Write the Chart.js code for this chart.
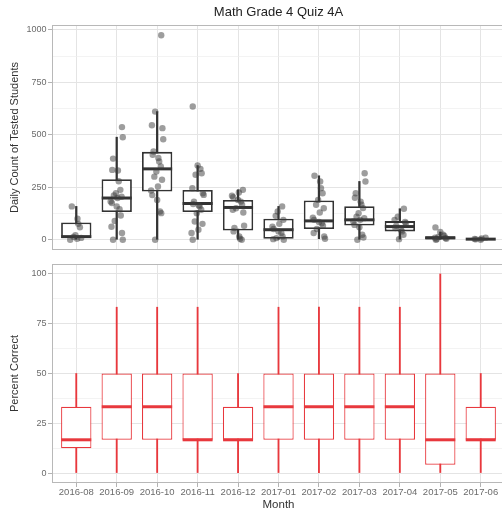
<!DOCTYPE html>
<html>
<head>
<meta charset="utf-8">
<script src="https://cdn.jsdelivr.net/npm/chart.js@4"></script>
<style>
  html, body { margin: 0; padding: 0; background: #fff; overflow: hidden; width: 502px; height: 514px; }
  #wrap { position: relative; width: 505px; height: 514px; }
  #c1 { position: absolute; left: 0; top: 0; }
  #c2 { position: absolute; left: 0; top: 251px; }
</style>
</head>
<body>
<div id="wrap">
  <canvas id="c1" width="505" height="251" style="width:505px;height:251px"></canvas>
  <canvas id="c2" width="505" height="263" style="width:505px;height:263px"></canvas>
</div>
<script>
// ---------- data ----------
const months = ['2016-08','2016-09','2016-10','2016-11','2016-12','2017-01','2017-02','2017-03','2017-04','2017-05','2017-06'];

// Daily count of tested students: box statistics
const countLo  = [0,   0,   0,   0,   0,   0,   5,   0,   3,   0,  0];
const countQ1  = [8,   132, 230, 132, 44,  5,   51,  68,  40,  2,  0];
const countMed = [15,  199, 338, 173, 154, 48,  90,  95,  63,  9,  3];
const countQ3  = [82,  289, 419, 237, 190, 100, 187, 160, 89,  17, 5];
const countHi  = [159, 489, 611, 354, 238, 159, 305, 278, 148, 37, 10];

// Daily count of tested students: individual days
const countPoints = [
  [159, 100, 76, 60, 22, 14, 9, 5, 0],
  [537, 489, 387, 333, 330, 279, 238, 222, 211, 205, 199, 182, 175, 159, 146, 116, 90, 62, 32, 0, 0],
  [975, 611, 546, 532, 479, 421, 405, 390, 373, 349, 325, 301, 286, 254, 235, 213, 190, 135, 127, 0],
  [635, 354, 338, 317, 310, 246, 222, 214, 182, 170, 165, 159, 143, 127, 87, 76, 48, 32, 0],
  [238, 225, 210, 203, 190, 182, 167, 150, 143, 130, 67, 56, 40, 16, 5, 0],
  [159, 135, 114, 95, 76, 62, 51, 40, 32, 16, 8, 3, 0],
  [305, 278, 246, 222, 190, 167, 150, 130, 105, 95, 85, 79, 67, 51, 32, 16, 5],
  [317, 278, 222, 200, 182, 167, 151, 127, 110, 103, 95, 87, 71, 60, 24, 11, 0],
  [148, 110, 95, 85, 79, 67, 56, 48, 40, 24, 3],
  [59, 37, 24, 18, 14, 10, 8, 5, 3, 0],
  [10, 6, 4, 2, 0]
];

// Percent correct: box statistics
const pctLo  = [0,    0,    0,    0,    0,    0,    0,    0,    0,    0,    0];
const pctQ1  = [12.5, 16.7, 16.7, 16.7, 16.7, 16.7, 16.7, 16.7, 16.7, 4.2,  16.7];
const pctMed = [16.7, 33.3, 33.3, 16.7, 16.7, 33.3, 33.3, 33.3, 33.3, 16.7, 16.7];
const pctQ3  = [33.3, 50,   50,   50,   33.3, 50,   50,   50,   50,   50,   33.3];
const pctHi  = [50,   83.3, 83.3, 83.3, 50,   83.3, 83.3, 83.3, 83.3, 100,  50];

// tick values
const countMajor = [0, 250, 500, 750, 1000];
const countMinor = [125, 375, 625, 875];
const pctMajor = [0, 25, 50, 75, 100];
const pctMinor = [12.5, 37.5, 62.5, 87.5];

// ---------- helpers ----------
const FONT = "'Liberation Sans', Arial, Helvetica, sans-serif";
const jitterPattern = [-0.11, 0.07, -0.02, 0.13, -0.15, 0.03, 0.10, -0.07, 0.15, -0.12, 0.05, -0.05, 0.12, -0.09, 0.0, 0.09, -0.13, 0.02];

const panelBorder = {
  id: 'panelBorder',
  afterDatasetsDraw(chart) {
    const a = chart.chartArea, ctx = chart.ctx;
    ctx.save();
    ctx.strokeStyle = '#b8b8b8';
    ctx.lineWidth = 1;
    ctx.strokeRect(a.left + 0.5, a.top + 0.5, a.right - a.left - 1, a.bottom - a.top - 1);
    ctx.restore();
  }
};

function noPad(s) { s.paddingTop = 0; s.paddingBottom = 0; s.paddingLeft = 0; s.paddingRight = 0; }

function xScale(showLabels) {
  return {
    type: 'linear', min: -0.6, max: 10.6, offset: false,
    afterBuildTicks: s => { s.ticks = months.map((m, i) => ({ value: i })); },
    afterFit: s => { s.height = showLabels ? 31 : 1; noPad(s); },
    border: { display: false },
    grid: { offset: false, color: '#e4e4e4', lineWidth: 1, drawTicks: showLabels, tickLength: 4, tickColor: '#b3b3b3' },
    ticks: {
      display: showLabels, autoSkip: false, maxRotation: 0, padding: 0,
      font: { family: FONT, size: 9.5 }, color: '#6b6b6b',
      callback: v => months[v]
    },
    title: showLabels ? { display: true, text: 'Month', font: { family: FONT, size: 11.5 }, color: '#333', padding: { top: 0, bottom: 2.5 } } : { display: false }
  };
}

function yScale(min, max, major, minor, titleText) {
  const all = major.concat(minor).sort((a, b) => a - b);
  return {
    type: 'linear', min: min, max: max,
    afterBuildTicks: s => { s.ticks = all.map(v => ({ value: v })); },
    afterFit: s => { s.width = 52; noPad(s); },
    border: { display: false },
    grid: {
      color: c => major.includes(c.tick.value) ? '#e4e4e4' : '#eeeeee',
      lineWidth: c => major.includes(c.tick.value) ? 1 : 0.7,
      tickLength: 4,
      tickColor: c => major.includes(c.tick.value) ? '#b3b3b3' : 'rgba(0,0,0,0)'
    },
    ticks: {
      autoSkip: false, padding: 1.5,
      font: { family: FONT, size: 9 }, color: '#6b6b6b',
      callback: v => major.includes(v) ? String(v) : ''
    },
    title: { display: true, text: titleText, font: { family: FONT, size: 11 }, color: '#333', padding: { top: 8, bottom: 0 } }
  };
}

function boxDatasets(lo, q1, med, q3, hi, color, boxLine, whiskerW) {
  return [
    {
      type: 'bar', order: 5, grouped: false,
      data: months.map((m, i) => ({ x: i, y: [lo[i], hi[i]] })),
      backgroundColor: color, borderWidth: 0, barThickness: whiskerW
    },
    {
      type: 'bar', order: 4, grouped: false,
      data: months.map((m, i) => ({ x: i, y: [q1[i], q3[i]] })),
      backgroundColor: '#ffffff', borderColor: color, borderWidth: boxLine,
      borderSkipped: false, barPercentage: 0.75, categoryPercentage: 1
    },
    {
      type: 'scatter', order: 3,
      data: months.map((m, i) => ({ x: i, y: med[i] })),
      pointStyle: 'line', pointRadius: 15, pointHoverRadius: 15,
      borderColor: color, pointBorderColor: color, pointBorderWidth: 3, borderWidth: 3
    }
  ];
}

const commonOpts = {
  responsive: false, animation: false,
  events: [],
  plugins: { legend: { display: false }, tooltip: { enabled: false } }
};

// ---------- top chart ----------
const pts = [];
countPoints.forEach((arr, i) => arr.forEach((v, k) => {
  pts.push({ x: i + jitterPattern[(k * 5 + i * 3) % jitterPattern.length], y: v });
}));

new Chart(document.getElementById('c1'), {
  type: 'bar',
  data: {
    datasets: boxDatasets(countLo, countQ1, countMed, countQ3, countHi, '#333333', 1.8, 1.6).concat([{
      type: 'scatter', order: 1,
      data: pts,
      pointRadius: 3.2, pointBorderWidth: 0,
      backgroundColor: 'rgba(60,60,60,0.5)', pointBackgroundColor: 'rgba(60,60,60,0.5)'
    }])
  },
  options: Object.assign({}, commonOpts, {
    layout: { padding: 0, autoPadding: false },
    plugins: {
      legend: { display: false }, tooltip: { enabled: false },
      title: { display: true, text: 'Math Grade 4 Quiz 4A', fullSize: false, color: '#222',
               font: { family: FONT, size: 13, weight: 'normal' }, padding: { top: 5, bottom: 4.4 } }
    },
    scales: {
      x: xScale(false),
      y: yScale(-48.75, 1023.75, countMajor, countMinor, 'Daily Count of Tested Students')
    }
  }),
  plugins: [panelBorder]
});

// ---------- bottom chart ----------
new Chart(document.getElementById('c2'), {
  type: 'bar',
  data: {
    datasets: boxDatasets(pctLo, pctQ1, pctMed, pctQ3, pctHi, '#e8383d', 1.2, 1.2)
  },
  options: Object.assign({}, commonOpts, {
    layout: { padding: { top: 13, left: 0, right: 0, bottom: 0 }, autoPadding: false },
    scales: {
      x: xScale(true),
      y: yScale(-5, 105, pctMajor, pctMinor, 'Percent Correct')
    }
  }),
  plugins: [panelBorder]
});
</script>
</body>
</html>
